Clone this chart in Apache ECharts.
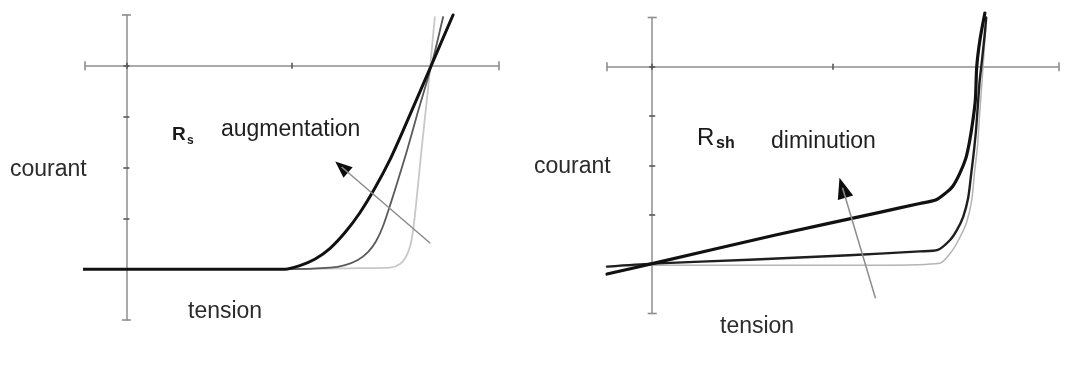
<!DOCTYPE html>
<html>
<head>
<meta charset="utf-8">
<script src="https://cdn.jsdelivr.net/npm/echarts@6/dist/echarts.min.js"></script>
<style>
  html, body { margin: 0; padding: 0; background: #fff; }
  #chart { width: 1075px; height: 379px; }
</style>
</head>
<body>
<div id="chart"></div>
<script>
// I-V curves of a cell: effect of series resistance (left) and shunt resistance (right).

// ---- Left panel: Rs increasing (low -> medium -> high) ----
const rsLowV  = [-1.15, 3.83, 5.64, 6.37, 6.61, 6.75, 6.85, 6.92, 7.00, 7.14, 7.29, 7.45];
const rsLowI  = [-4, -4, -3.98, -3.97, -3.90, -3.76, -3.56, -3.27, -2.70, -1.56, -0.42, 0.96];
const rsMidV  = [-1.15, 3.83, 4.92, 5.28, 5.59, 5.84, 6.03, 6.20, 6.37, 6.56, 6.78, 7.04, 7.36, 7.65];
const rsMidI  = [-4, -4, -3.97, -3.92, -3.82, -3.66, -3.45, -3.15, -2.74, -2.25, -1.66, -0.91, -0.02, 0.96];
const rsHighV = [-1.15, 3.83, 4.19, 4.56, 4.92, 5.28, 5.64, 6.00, 6.37, 6.68, 7.36, 7.89];
const rsHighI = [-4, -4, -3.93, -3.80, -3.59, -3.28, -2.89, -2.41, -1.84, -1.28, 0, 1.0];
const rsArrowV = [7.34, 5.20];
const rsArrowI = [-3.49, -1.99];

// ---- Right panel: Rsh decreasing (high -> medium -> low) ----
const rshHighV = [-1.0, 0, 5.03, 6.36, 6.65, 6.80, 6.95, 7.07, 7.13, 7.20, 7.24, 7.32, 7.38];
const rshHighI = [-4.05, -4.02, -4.02, -3.98, -3.71, -3.47, -3.17, -2.70, -2.15, -1.58, -1.02, 0.0, 0.81];
const rshMidV  = [-1.0, 0, 2.15, 4.36, 5.92, 6.32, 6.59, 6.74, 6.88, 6.99, 7.06, 7.12, 7.17, 7.24, 7.28, 7.36, 7.39];
const rshMidI  = [-4.05, -3.99, -3.91, -3.82, -3.74, -3.71, -3.51, -3.31, -3.04, -2.66, -2.15, -1.69, -1.22, -0.33, 0.0, 0.69, 1.0];
const rshLowV  = [-1.0, 0, 2.73, 5.03, 5.92, 6.27, 6.49, 6.65, 6.80, 6.94, 7.02, 7.09, 7.15, 7.18, 7.25, 7.36];
const rshLowI  = [-4.20, -3.99, -3.41, -2.95, -2.77, -2.70, -2.56, -2.42, -2.17, -1.85, -1.52, -1.12, -0.67, 0.0, 0.54, 1.09];
const rshArrowV = [4.94, 4.21];
const rshArrowI = [-4.69, -2.45];

// Axis ranges and tick positions (no tick labels are drawn)
const vRange = [-1, 9];
const iRange = [-5, 1];
const vTicks = [0, 4];
const iTicks = [-4, -3, -2, -1, 0];

// Text
const yName = 'courant';
const xName = 'tension';
const rsNote = 'augmentation';
const rshNote = 'diminution';

const zip = (xs, ys) => xs.map((x, i) => [x, ys[i]]);

const axisColor = '#8e8e8e';
const font = '"Liberation Sans", Arial, sans-serif';

function xAxes(gridIndex, onZeroIdx) {
  const base = {
    type: 'value', gridIndex, min: vRange[0], max: vRange[1],
    axisLabel: { show: false }, splitLine: { show: false }
  };
  return [
    Object.assign({}, base, {
      position: 'bottom',
      axisLine: { show: true, onZero: true, onZeroAxisIndex: onZeroIdx,
        lineStyle: { color: axisColor, width: 1.5 },
        symbol: ['rect', 'rect'], symbolSize: [9, 1.6] },
      axisTick: { show: true, length: 3, customValues: vTicks, lineStyle: { color: '#555', width: 1.6 } }
    }),
    Object.assign({}, base, {
      position: 'top',
      axisLine: { show: false, onZero: true, onZeroAxisIndex: onZeroIdx },
      axisTick: { show: true, length: 3, customValues: vTicks, lineStyle: { color: '#555', width: 1.6 } }
    })
  ];
}
function yAxes(gridIndex, onZeroIdx) {
  const base = {
    type: 'value', gridIndex, min: iRange[0], max: iRange[1],
    axisLabel: { show: false }, splitLine: { show: false }
  };
  return [
    Object.assign({}, base, {
      position: 'left',
      axisLine: { show: true, onZero: true, onZeroAxisIndex: onZeroIdx,
        lineStyle: { color: axisColor, width: 1.5 },
        symbol: ['rect', 'rect'], symbolSize: [9, 1.6] },
      axisTick: { show: true, length: 3, customValues: iTicks, lineStyle: { color: '#555', width: 1.6 } }
    }),
    Object.assign({}, base, {
      position: 'right',
      axisLine: { show: false, onZero: true, onZeroAxisIndex: onZeroIdx },
      axisTick: { show: true, length: 3, customValues: iTicks, lineStyle: { color: '#555', width: 1.6 } }
    })
  ];
}

function curve(xs, ys, axisIdx, color, width) {
  return {
    type: 'line', xAxisIndex: axisIdx, yAxisIndex: axisIdx,
    data: zip(xs, ys), showSymbol: false, symbol: 'none',
    smooth: 0.25, clip: false, silent: true,
    lineStyle: { color, width, cap: 'round', join: 'round' }
  };
}
function arrow(xs, ys, axisIdx, rotate, size) {
  return [
    {
      type: 'line', xAxisIndex: axisIdx, yAxisIndex: axisIdx,
      data: zip(xs, ys), showSymbol: false, symbol: 'none', silent: true,
      lineStyle: { color: '#8c8c8c', width: 1.5 }
    },
    {
      type: 'scatter', xAxisIndex: axisIdx, yAxisIndex: axisIdx,
      data: [[xs[1], ys[1]]], symbol: 'triangle', symbolSize: size,
      symbolRotate: rotate, silent: true, itemStyle: { color: '#0d0d0d', opacity: 1 }
    }
  ];
}

function label(text, x, y, size, opts) {
  return {
    type: 'text', x, y, silent: true,
    style: Object.assign({
      text, fontFamily: font, fontSize: size, fill: '#2b2b2b',
      verticalAlign: 'middle', align: 'left'
    }, opts || {})
  };
}

const chart = echarts.init(document.getElementById('chart'), null, { renderer: 'canvas' });
chart.setOption({
  animation: false,
  backgroundColor: '#ffffff',
  grid: [
    { left: 85, right: 576, top: 15, bottom: 59 },
    { left: 607, right: 16, top: 17.5, bottom: 65.5 }
  ],
  xAxis: [].concat(xAxes(0, 0), xAxes(1, 2)),
  yAxis: [].concat(yAxes(0, 0), yAxes(1, 2)),
  series: [
    curve(rsLowV, rsLowI, 0, '#c8c8c8', 1.8),
    curve(rsMidV, rsMidI, 0, '#5a5a5a', 1.8),
    curve(rsHighV, rsHighI, 0, '#111111', 3),
    ...arrow(rsArrowV, rsArrowI, 0, 49, [14, 17]),
    curve(rshHighV, rshHighI, 2, '#b4b4b4', 1.5),
    curve(rshMidV, rshMidI, 2, '#1e1e1e', 2.4),
    curve(rshLowV, rshLowI, 2, '#111111', 3.2),
    ...arrow(rshArrowV, rshArrowI, 2, 16.7, [16, 21])
  ],
  graphic: [
    label(yName, 10, 170, 23),
    label(xName, 188, 312, 23),
    label('R', 172, 135, 19, { fontWeight: 'bold', fill: '#1a1a1a' }),
    label('s', 187, 141, 12, { fontWeight: 'bold', fill: '#1a1a1a' }),
    label(rsNote, 221, 130, 23, { fill: '#1f1f1f' }),
    label(yName, 534, 167, 23),
    label(xName, 720, 327, 23),
    label('R', 697, 138, 24, { fill: '#1a1a1a' }),
    label('sh', 716, 144, 16, { fontWeight: 'bold', fill: '#1a1a1a' }),
    label(rshNote, 771, 142, 23, { fill: '#1f1f1f' })
  ]
});
</script>
</body>
</html>
